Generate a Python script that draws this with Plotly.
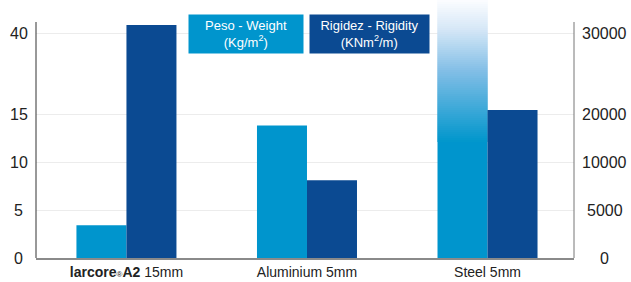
import numpy as np
import plotly.graph_objects as go

# ---- data ----
categories = ["larcore A2 15mm", "Aluminium 5mm", "Steel 5mm"]
category_labels = ["<b>larcore</b><span style='font-size:8px'>®</span><b>A2</b> 15mm",
                   "Aluminium 5mm", "Steel 5mm"]
peso_weight = [3.4, 13.8, 39.25]          # Kg/m2 (left axis)
rigidez_rigidity = [31000, 8100, 20500]   # KNm2/m (right axis)

left_ticks = [0, 5, 10, 15, 40]
right_ticks = [0, 5000, 10000, 20000, 30000]
left_tick_labels = ["0", "5", "10", "15", "40"]
right_tick_labels = ["0", "5000", "10000", "20000", "30000"]

series_names = ["Peso - Weight<br>(Kg/m<sup>2</sup>)", "Rigidez - Rigidity<br>(KNm<sup>2</sup>/m)"]

# ---- style ----
LIGHT = "#0095cd"
DARK = "#0b4a92"
TICK_POS = [0, 1, 2, 3, 4.6875]   # broken-axis positions of the tick values
PX = 1 / 48.0                      # one pixel in axis units
Y_TOP = 258 * PX
AXIS_TOP = 236 * PX
FADE_FROM = 116 * PX
N_FADE = 71                        # 2 px per fade step


def to_pos(v, knots):
    v = float(v)
    k = knots
    p = TICK_POS
    if v <= k[-1]:
        return float(np.interp(v, k, p))
    slope = (p[-1] - p[-2]) / (k[-1] - k[-2])
    return p[-1] + (v - k[-1]) * slope


peso_pos = [to_pos(v, left_ticks) for v in peso_weight]
rig_pos = [to_pos(v, right_ticks) for v in rigidez_rigidity]

fig = go.Figure()
# steel weight goes off the scale: it is drawn below as a fading bar instead
fig.add_trace(go.Bar(x=categories, y=peso_pos,
                     marker=dict(color=LIGHT, line=dict(width=0), opacity=[1, 1, 0]),
                     offsetgroup="a", alignmentgroup="g", hoverinfo="skip", showlegend=False))
fig.add_trace(go.Bar(x=categories, y=rig_pos, marker=dict(color=DARK, line=dict(width=0)),
                     offsetgroup="b", alignmentgroup="g", hoverinfo="skip", showlegend=False,
                     yaxis="y2"))

# off-scale steel weight bar: solid base then fading top
fig.add_trace(go.Bar(x=[categories[2]], y=[FADE_FROM + 2 * PX], base=[0],
                     marker=dict(color=LIGHT, line=dict(width=0)),
                     offsetgroup="a", alignmentgroup="g", hoverinfo="skip", showlegend=False))
stops_t = [0.0, 0.5, 0.8, 1.0]
stops_c = np.array([[0, 150, 204], [130, 190, 230], [215, 232, 247], [252, 253, 255]])
edges = np.linspace(FADE_FROM, Y_TOP, N_FADE + 1)
for i in range(N_FADE):
    t = (i + 0.5) / N_FADE
    col = [int(round(np.interp(t, stops_t, stops_c[:, j]))) for j in range(3)]
    fig.add_trace(go.Bar(x=[categories[2]], y=[edges[i + 1] - edges[i] + 2 * PX], base=[edges[i]],
                         marker=dict(color=f"rgb({col[0]},{col[1]},{col[2]})", line=dict(width=0)),
                         offsetgroup="a", alignmentgroup="g", hoverinfo="skip", showlegend=False))

fig.update_layout(
    width=631, height=282,
    margin=dict(l=36, r=57, t=0, b=24),
    paper_bgcolor="white", plot_bgcolor="white",
    barmode="group", bargap=0.446, bargroupgap=0,
    font=dict(family="Liberation Sans, Arial, sans-serif", color="#222"),
    xaxis=dict(range=[-0.501, 2.479], tickmode="array", tickvals=categories, ticktext=category_labels,
               tickfont=dict(size=14, color="#222"), showline=True, linecolor="#8a8a8a", linewidth=1.5,
               showgrid=False, zeroline=False, ticks=""),
    yaxis=dict(range=[0, Y_TOP], tickvals=TICK_POS, showticklabels=False, showgrid=True,
               gridcolor="#ececec", gridwidth=1, zeroline=False, showline=False),
    yaxis2=dict(range=[0, Y_TOP], overlaying="y", side="right", tickvals=TICK_POS,
                showticklabels=False, showgrid=False, zeroline=False, showline=False),
    hovermode=False,
)

# axis lines (stop below the fading bar)
fig.add_shape(type="line", xref="paper", yref="y", x0=0, x1=0, y0=0, y1=AXIS_TOP,
              line=dict(color="#333333", width=1))
fig.add_shape(type="line", xref="paper", yref="y", x0=1, x1=1, y0=0, y1=AXIS_TOP,
              line=dict(color="#777777", width=1))

# centred tick labels
for p, lab in zip(TICK_POS, left_tick_labels):
    fig.add_annotation(x=-0.0316, xref="paper", y=p, yref="y", text=lab, showarrow=False,
                       xanchor="center", yanchor="middle", font=dict(size=16, color="#222"))
for p, lab in zip(TICK_POS, right_tick_labels):
    fig.add_annotation(x=1.0576, xref="paper", y=p, yref="y", text=lab, showarrow=False,
                       xanchor="center", yanchor="middle", font=dict(size=16, color="#222"))

# legend boxes
for name, col, xc, w in [(series_names[0], LIGHT, 0.3903, 114), (series_names[1], DARK, 0.6199, 119)]:
    fig.add_annotation(x=xc, xref="paper", y=0.8682, yref="paper", text=name, showarrow=False,
                       xanchor="center", yanchor="middle", width=w, height=38, bgcolor=col,
                       borderpad=0, align="center", font=dict(size=13, color="white"))

fig.write_html("out.html", post_script="document.body.style.margin='0';",
               config={"displayModeBar": False})
